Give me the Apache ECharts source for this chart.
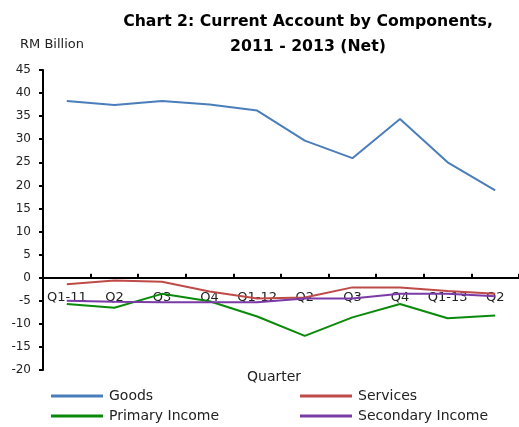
<!DOCTYPE html>
<html>
<head>
<meta charset="utf-8">
<script src="https://cdn.jsdelivr.net/npm/echarts@6/dist/echarts.min.js"></script>
<style>
  html, body { margin: 0; padding: 0; background: #fff; }
  #chart { width: 519px; height: 427px; }
</style>
</head>
<body>
<div id="chart"></div>
<script>
// Quarterly current account components, RM billion (net)
const quarters = ['Q1-11', 'Q2', 'Q3', 'Q4', 'Q1-12', 'Q2', 'Q3', 'Q4', 'Q1-13', 'Q2'];
const goods = [38.3, 37.4, 38.3, 37.5, 36.2, 29.7, 25.9, 34.4, 25.0, 18.9];
const services = [-1.4, -0.6, -0.9, -3.0, -4.5, -4.3, -2.1, -2.1, -2.9, -3.5];
const primaryIncome = [-5.7, -6.5, -3.5, -5.1, -8.4, -12.6, -8.6, -5.7, -8.8, -8.2];
const secondaryIncome = [-5.0, -5.2, -5.3, -5.3, -5.3, -4.5, -4.5, -3.5, -3.5, -4.0];
const yMin = -20, yMax = 45, yStep = 5;

const FONT = '"DejaVu Sans", sans-serif';
const GRID_TOP = 70, GRID_BOTTOM = 57, CH = 427;
const plotH = CH - GRID_TOP - GRID_BOTTOM;
// shift the category axis up so it sits on the zero line
const zeroOffset = -plotH * (0 - yMin) / (yMax - yMin);

const chart = echarts.init(document.getElementById('chart'), null, { renderer: 'canvas' });

function lineSeries(name, data, color) {
  return {
    name: name, type: 'line', data: data, symbol: 'none',
    lineStyle: { color: color, width: 2 }, itemStyle: { color: color },
    animation: false
  };
}

function legendItem(name, left, top) {
  return {
    data: [name], left: left, top: top, padding: 0,
    icon: 'rect', itemWidth: 52, itemHeight: 3, itemGap: 0,
    textStyle: { fontFamily: FONT, fontSize: 14, color: '#222', padding: [0, 0, 0, 1] }
  };
}

chart.setOption({
  animation: false,
  title: {
    text: 'Chart 2: Current Account by Components,\n2011 - 2013 (Net)',
    left: 303, top: 4, textAlign: 'center',
    textStyle: { fontFamily: FONT, fontSize: 15.7, fontWeight: 'bold', color: '#000', lineHeight: 25, align: 'center' }
  },
  graphic: [
    { type: 'text', left: 20, top: 38, style: { text: 'RM Billion', font: '13px ' + FONT, fill: '#222' } },
    { type: 'text', left: 247, top: 370, style: { text: 'Quarter', font: '14px ' + FONT, fill: '#222' } }
  ],
  legend: [
    legendItem('Goods', 51, 389),
    legendItem('Primary Income', 51, 409),
    legendItem('Services', 300, 389),
    legendItem('Secondary Income', 300, 409)
  ],
  grid: { left: 43, right: 0, top: GRID_TOP, bottom: GRID_BOTTOM, containLabel: false },
  xAxis: {
    type: 'category', data: quarters, boundaryGap: true,
    offset: zeroOffset,
    axisLine: { onZero: false, lineStyle: { color: '#000', width: 2 } },
    axisTick: { show: true, inside: true, length: 4, lineStyle: { color: '#000', width: 2 } },
    axisLabel: { fontFamily: FONT, fontSize: 13, color: '#222', margin: 13, interval: 0 },
    splitLine: { show: false }
  },
  yAxis: {
    type: 'value', min: yMin, max: yMax, interval: yStep,
    axisLine: { show: true, lineStyle: { color: '#000', width: 2 } },
    axisTick: { show: true, length: 4, lineStyle: { color: '#000', width: 2 } },
    axisLabel: { fontFamily: FONT, fontSize: 12, color: '#222', margin: 12 },
    splitLine: { show: false }
  },
  series: [
    lineSeries('Goods', goods, '#4a7ebb'),
    lineSeries('Services', services, '#be4b48'),
    lineSeries('Primary Income', primaryIncome, '#0a8a0a'),
    lineSeries('Secondary Income', secondaryIncome, '#7a3aa8')
  ]
});
</script>
</body>
</html>
